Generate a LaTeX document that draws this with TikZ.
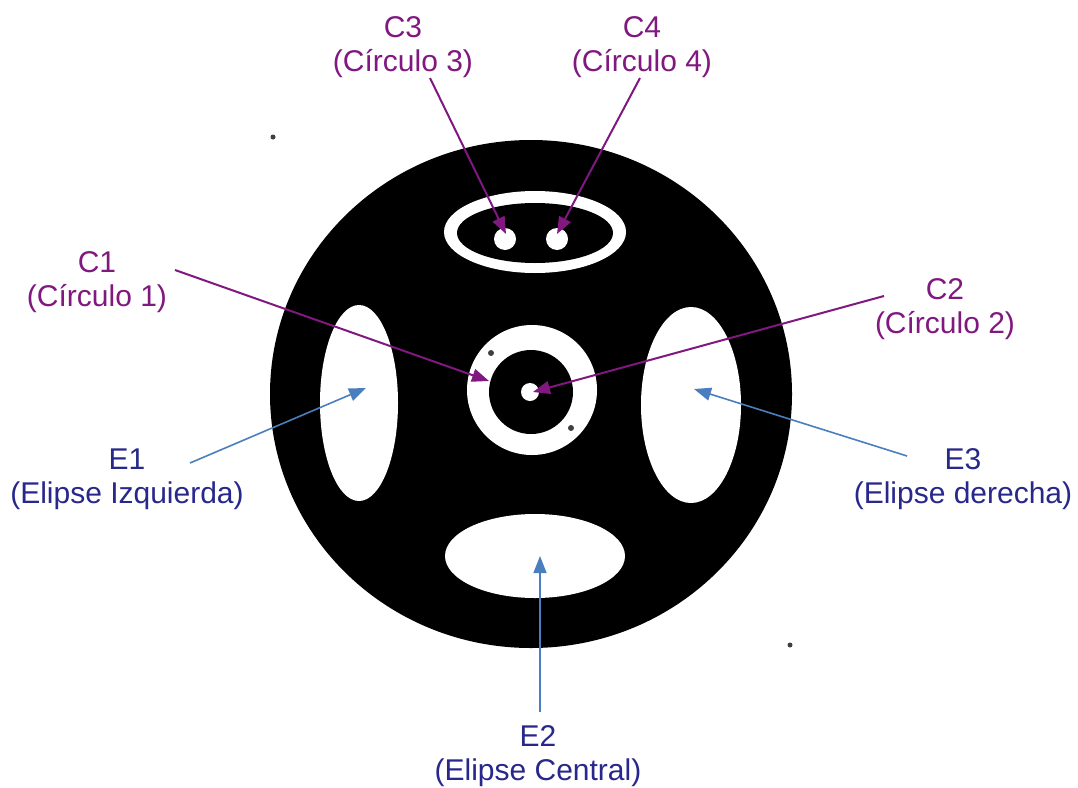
\documentclass[tikz,border=0pt]{standalone}
\usepackage{fontspec}
\setmainfont{Liberation Sans}
\usetikzlibrary{arrows.meta}
\definecolor{cpurple}{RGB}{128,24,128}
\definecolor{cblue}{RGB}{74,126,190}
\definecolor{cnavy}{RGB}{40,40,140}
\begin{document}
\begin{tikzpicture}[x=1pt,y=-1pt,
  lbl/.style={align=center,font=\fontsize{30}{34}\selectfont,inner sep=0pt},
  plbl/.style={lbl,text=cpurple},
  blbl/.style={lbl,text=cnavy},
  parrow/.style={draw=cpurple,line width=2pt,-{Triangle[length=17pt,width=13pt]}},
  barrow/.style={draw=cblue,line width=1.6pt,-{Triangle[length=17pt,width=13pt]}},
  speck/.style={fill=black!75}]
\useasboundingbox (0,0) rectangle (1078,787);
\fill[white] (0,0) rectangle (1078,787);
% main disc
\fill[black] (531,394) ellipse [x radius=261pt, y radius=254pt];
% top ring ellipse
\fill[white] (535,232) ellipse [x radius=91pt, y radius=41pt];
\fill[black] (535,233) ellipse [x radius=78pt, y radius=30pt];
\fill[white] (505,239) circle [radius=11pt];
\fill[white] (557,239) circle [radius=11pt];
% central rings
\fill[white] (532,390) circle [radius=65pt];
\fill[black] (531,392) circle [radius=42pt];
\fill[white] (530,392) circle [radius=9pt];
% ellipses
\fill[white] (359,403) ellipse [x radius=39pt, y radius=98pt];
\fill[white] (691,405) ellipse [x radius=50pt, y radius=98pt];
\fill[white] (535,556) ellipse [x radius=90pt, y radius=42pt];
% specks
\fill[speck] (491,353) circle [radius=3pt];
\fill[speck] (571,428) circle [radius=3pt];
\fill[speck] (273,137) circle [radius=2.5pt];
\fill[speck] (790,645) circle [radius=2.5pt];
% labels
\node[plbl] (C3) at (403,47) {C3\\(Círculo 3)};
\node[plbl] (C4) at (642,47) {C4\\(Círculo 4)};
\node[plbl] (C1) at (97,282) {C1\\(Círculo 1)};
\node[plbl] (C2) at (945,309) {C2\\(Círculo 2)};
\node[blbl] (E1) at (127,479) {E1\\(Elipse Izquierda)};
\node[blbl] (E3) at (963,479) {E3\\(Elipse derecha)};
\node[blbl] (E2) at (538,756) {E2\\(Elipse Central)};
% connector ends
\coordinate (c3s) at (430,78);  \coordinate (c3t) at (506,234);
\coordinate (c4s) at (640,78);  \coordinate (c4t) at (557,234);
\coordinate (c1s) at (175,270); \coordinate (c1t) at (489,381);
\coordinate (c2s) at (884,296); \coordinate (c2t) at (533,392);
\coordinate (e1s) at (190,463); \coordinate (e1t) at (366,388);
\coordinate (e3s) at (907,456); \coordinate (e3t) at (694,389);
\coordinate (e2s) at (540,712); \coordinate (e2t) at (540,556);
\draw[parrow] (c3s) -- (c3t);
\draw[parrow] (c4s) -- (c4t);
\draw[parrow] (c1s) -- (c1t);
\draw[parrow] (c2s) -- (c2t);
\draw[barrow] (e1s) -- (e1t);
\draw[barrow] (e3s) -- (e3t);
\draw[barrow] (e2s) -- (e2t);
\end{tikzpicture}
\end{document}
